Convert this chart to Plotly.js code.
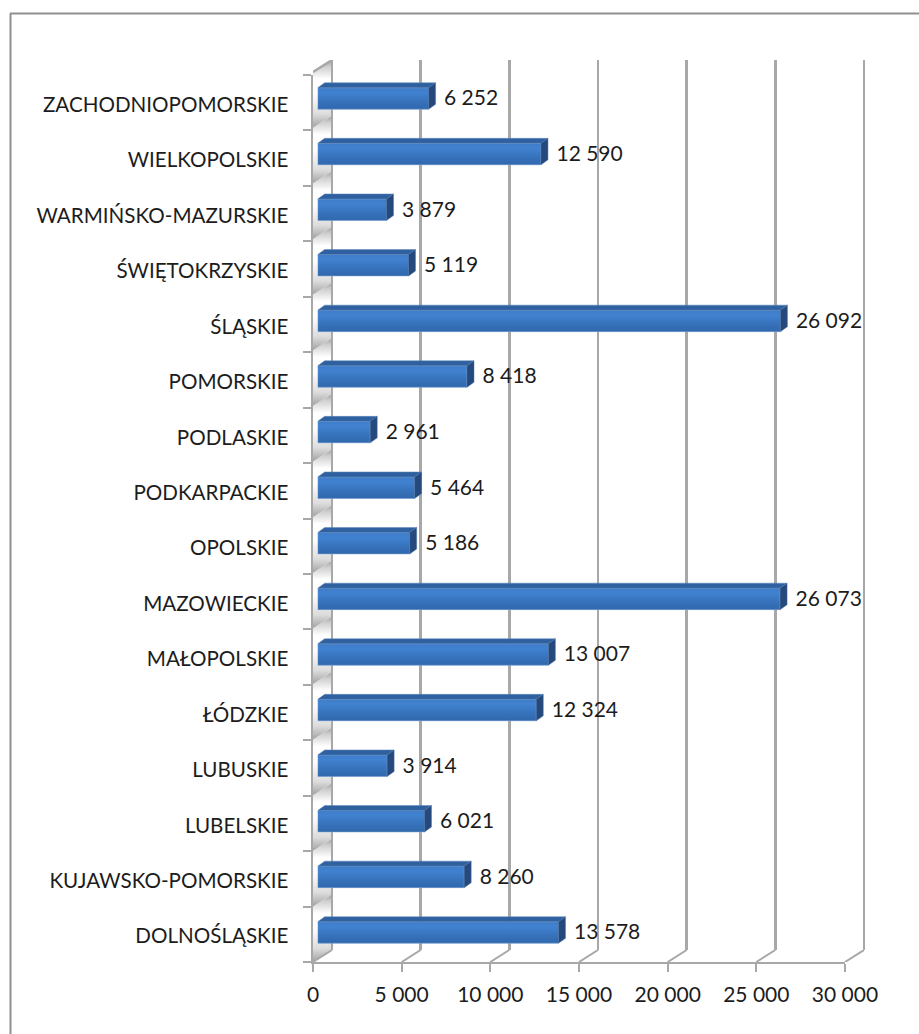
<!DOCTYPE html>
<html>
<head>
<meta charset="utf-8">
<script src="https://cdn.plot.ly/plotly-3.0.1.min.js"></script>
<style>html,body{margin:0;padding:0;background:#fff}#c{width:919px;height:1034px}</style>
</head>
<body>
<div id="c"></div>
<script>
const categories = ["DOLNOŚLĄSKIE","KUJAWSKO-POMORSKIE","LUBELSKIE","LUBUSKIE","ŁÓDZKIE","MAŁOPOLSKIE","MAZOWIECKIE","OPOLSKIE","PODKARPACKIE","PODLASKIE","POMORSKIE","ŚLĄSKIE","ŚWIĘTOKRZYSKIE","WARMIŃSKO-MAZURSKIE","WIELKOPOLSKIE","ZACHODNIOPOMORSKIE"];
const values = [13578,8260,6021,3914,12324,13007,26073,5186,5464,2961,8418,26092,5119,3879,12590,6252];
const xTicks = [0,5000,10000,15000,20000,25000,30000];

const W = 919, H = 1034;
const px = (a,b) => [a/W, b/W];
const py = (top,bot) => [(H-bot)/H, (H-top)/H];
const xmax = 30000;
const xScale = xmax/532;            // data units per pixel
const yFront = 55.44, yBar = 55.6;  // pixels per category
const idx = categories.map((_,i)=>i);
const fmt = v => String(v).replace(/\B(?=(\d{3})+$)/g,' ');
const FONT = 'Lato, Carlito, sans-serif', TXT = '#1c1c1c';

const wallDx = 19*xScale, wallDy = 12/yFront;
const barDx = 7*xScale, barDy = 5/yBar, barH = 0.1935;
const grey = '#a8a8a8';
const traces = [];

// side wall panels (subplot x/y, lowest layer)
idx.forEach(i=>{
  traces.push({type:'scatter',mode:'lines',xaxis:'x',yaxis:'y',hoverinfo:'skip',showlegend:false,
    x:[0,wallDx,wallDx,0,0],
    y:[i-0.5,i-0.5+wallDy,i+0.5+wallDy,i+0.5,i-0.5],
    line:{width:0,color:'rgba(0,0,0,0)'},fill:'toself',
    fillgradient:{type:'vertical',start:i-0.5,stop:i+0.5+wallDy,
      colorscale:[[0,'#a2a2a2'],[0.2,'#dcdcdc'],[0.5,'#ffffff'],[0.72,'#ffffff'],[0.9,'#cfcfcf'],[1,'#a0a0a0']]}});
});
traces.push({type:'scatter',mode:'lines',xaxis:'x',yaxis:'y',hoverinfo:'skip',showlegend:false,
  x:[0,wallDx],y:[15.5,15.5+wallDy],line:{color:grey,width:2.5}});
// front axes carrier
traces.push({type:'scatter',mode:'markers',xaxis:'x2',yaxis:'y2',x:[0],y:[0],marker:{opacity:0},hoverinfo:'skip',showlegend:false});
// back wall gridlines (drawn by third axes)
traces.push({type:'scatter',mode:'markers',xaxis:'x3',yaxis:'y3',x:[0],y:[0],marker:{opacity:0},hoverinfo:'skip',showlegend:false});

// bars
traces.push({type:'bar',orientation:'h',xaxis:'x4',yaxis:'y4',x:values,y:idx,width:barH*2,
  marker:{color:'#3a71b6',line:{width:0}},hoverinfo:'skip',showlegend:false});
// bar front gradient
idx.forEach(i=>{
  const v=values[i];
  traces.push({type:'scatter',mode:'lines',xaxis:'x4',yaxis:'y4',cliponaxis:false,hoverinfo:'skip',showlegend:false,
    x:[0,v,v,0,0],y:[i-barH,i-barH,i+barH,i+barH,i-barH],
    line:{width:1,color:'rgba(150,180,220,0.55)'},fill:'toself',
    fillgradient:{type:'vertical',start:i-barH,stop:i+barH,colorscale:[[0,'#3068ad'],[0.3,'#3570b8'],[0.78,'#4182d0'],[1,'#3e7cc9']]}});
});
// bar top and side faces
const tx=[],ty=[],sx=[],sy=[];
idx.forEach(i=>{
  const v=values[i],t=i+barH,b=i-barH;
  tx.push(0,v,v+barDx,barDx,0,null); ty.push(t,t,t+barDy,t+barDy,t,null);
  sx.push(v,v+barDx,v+barDx,v,v,null); sy.push(t,t+barDy,b+barDy,b,t,null);
});
traces.push({type:'scatter',mode:'lines',xaxis:'x4',yaxis:'y4',cliponaxis:false,hoverinfo:'skip',showlegend:false,
  x:tx,y:ty,fill:'toself',fillcolor:'#2f609f',line:{width:0.5,color:'#5f88bd'}});
traces.push({type:'scatter',mode:'lines',xaxis:'x4',yaxis:'y4',cliponaxis:false,hoverinfo:'skip',showlegend:false,
  x:sx,y:sy,fill:'toself',fillcolor:'#25497c',line:{width:0.5,color:'#4c72a6'}});
// data labels
traces.push({type:'scatter',mode:'text',xaxis:'x4',yaxis:'y4',cliponaxis:false,hoverinfo:'skip',showlegend:false,
  x:values.map(v=>v+15.5*xScale),y:idx.map(i=>i-0.03),text:values.map(fmt),textposition:'middle right',
  textfont:{family:FONT,size:21,color:TXT}});
// floor diagonals (own subplot that holds the whole floor)
const dx=[],dy=[];
xTicks.forEach(t=>{dx.push(t,t+wallDx,null);dy.push(0,1,null);});
traces.push({type:'scatter',mode:'lines',xaxis:'x5',yaxis:'y5',hoverinfo:'skip',showlegend:false,
  x:dx,y:dy,line:{color:grey,width:2}});

const layout = {
  width:W,height:H,margin:{l:0,r:0,t:0,b:0,pad:0},autosize:false,
  paper_bgcolor:'#fff',plot_bgcolor:'rgba(0,0,0,0)',showlegend:false,separators:', ',
  font:{family:FONT,size:21,color:TXT},
  // side wall
  xaxis:{domain:px(313,332),range:[0,wallDx],anchor:'y',visible:false},
  yaxis:{domain:py(60,962),range:[-0.5,15.5+wallDy],anchor:'x',visible:false},
  // front axes: ticks and labels
  xaxis2:{domain:px(313,845),range:[0,xmax],anchor:'y2',showgrid:false,zeroline:false,showline:true,linecolor:grey,linewidth:2,
    tickmode:'array',tickvals:xTicks,tickformat:',d',ticks:'outside',ticklen:8,tickwidth:2,tickcolor:grey,ticklabelstandoff:5,
    tickfont:{family:FONT,size:21,color:TXT}},
  yaxis2:{domain:py(75,962),range:[-0.5,15.5],anchor:'x2',showgrid:false,zeroline:false,showline:true,linecolor:grey,linewidth:2.5,
    tickmode:'array',tickvals:idx.map(i=>i-0.036),ticktext:categories,ticks:'',ticklen:0,ticklabelstandoff:18,
    tickfont:{family:FONT,size:20.6,color:TXT}},
  // back wall gridlines: the range runs a few pixels past each end so the end lines are kept
  xaxis3:{domain:px(328,868),range:[-4*xScale,xmax+4*xScale],anchor:'y3',showgrid:true,gridcolor:grey,gridwidth:2.5,zeroline:false,showline:false,
    tickmode:'array',tickvals:xTicks,showticklabels:false,ticks:''},
  yaxis3:{domain:py(60,950),range:[0,1],anchor:'x3',showgrid:false,zeroline:false,showline:false,showticklabels:false,ticks:''},
  // bars
  xaxis4:{domain:px(317.7,849.7),range:[0,xmax],anchor:'y4',visible:false},
  yaxis4:{domain:py(70.7,960.3),range:[-0.5,15.5],anchor:'x4',visible:false},
  // floor
  xaxis5:{domain:px(313,864),range:[0,xmax+wallDx],anchor:'y5',visible:false},
  yaxis5:{domain:py(950,962),range:[0,1],anchor:'x5',visible:false},
  shapes:[
    {type:'line',xref:'paper',yref:'paper',x0:10.5/W,x1:10.5/W,y0:0,y1:(H-13.5)/H,line:{color:'#909090',width:2}},
    {type:'line',xref:'paper',yref:'paper',x0:10/W,x1:1,y0:(H-13.5)/H,y1:(H-13.5)/H,line:{color:'#909090',width:2}}
  ]
};
layout.yaxis2.minor={tickmode:'linear',tick0:-0.5,dtick:1,ticks:'outside',ticklen:8,tickwidth:2,tickcolor:grey,showgrid:false};
Plotly.newPlot('c',traces,layout,{displayModeBar:false,staticPlot:true});
</script>
</body>
</html>
